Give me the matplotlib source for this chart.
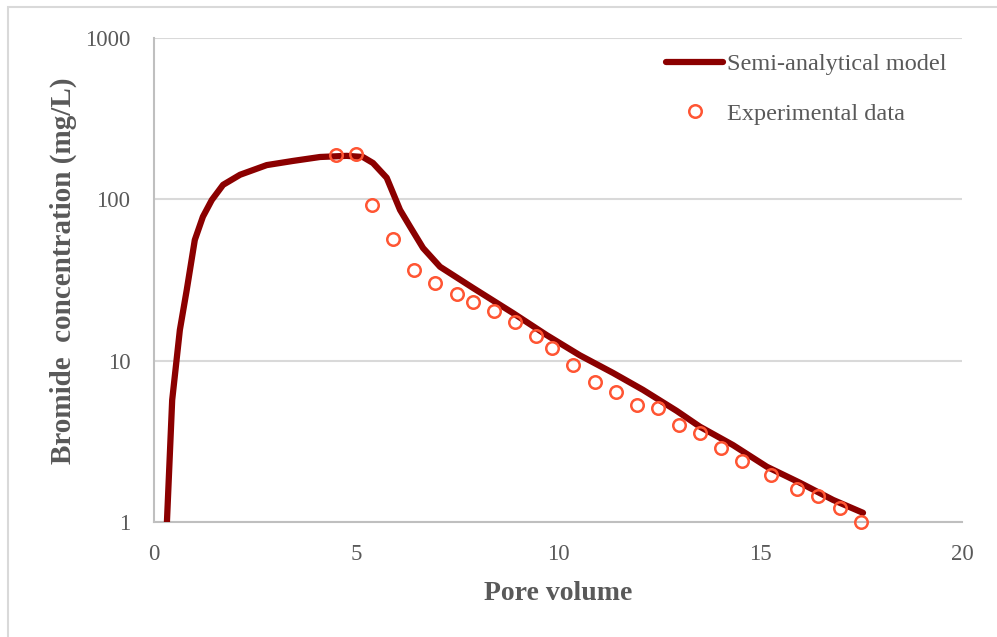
import matplotlib
matplotlib.use("Agg")
import matplotlib.pyplot as plt
import matplotlib.patches as patches

plt.rcParams['font.family'] = ['Liberation Serif', 'DejaVu Serif']

# ---- semi-analytical model curve ----
model_pv = [0.32, 0.45, 0.64, 0.81, 1.01, 1.21, 1.43, 1.71, 2.13, 2.79, 3.44,
            4.11, 4.77, 5.17, 5.42, 5.76, 6.09, 6.34, 6.66, 7.08, 7.90, 8.89,
            9.72, 10.54, 11.36, 12.10, 12.94, 13.51, 14.33, 15.17, 15.99,
            16.81, 17.55]
model_conc = [1.0, 5.7, 15.5, 27.4, 56, 78, 99, 123, 142, 163, 173,
              183, 186, 183, 168, 136, 86, 67.6, 49.9, 38.2, 28.2, 19.7,
              14.4, 10.8, 8.4, 6.6, 4.88, 3.90, 3.0, 2.20, 1.75,
              1.37, 1.14]

# ---- experimental breakthrough data ----
exp_pv = [4.50, 5.00, 5.40, 5.92, 6.44, 6.96, 7.50, 7.90, 8.42, 8.94, 9.46,
          9.85, 10.37, 10.92, 11.44, 11.96, 12.48, 13.00, 13.51, 14.03,
          14.55, 15.27, 15.92, 16.44, 16.98, 17.50]
exp_conc = [188, 190, 92, 57, 36.5, 30.3, 25.9, 23.1, 20.3, 17.4, 14.2,
            12.0, 9.4, 7.4, 6.4, 5.3, 5.1, 4.0, 3.57, 2.88,
            2.39, 1.95, 1.60, 1.45, 1.22, 1.0]

x_ticks = [0, 5, 10, 15, 20]
y_ticks = [1, 10, 100, 1000]

LINE_COLOR = '#8b0000'
MARKER_COLOR = '#ff5533'
TEXT_COLOR = '#595959'
GRID_COLOR = '#d9d9d9'

fig = plt.figure(figsize=(9.97, 6.37), dpi=100)
fig.patch.set_facecolor('white')

# thin outer frame (top/left edges visible)
frame = patches.Rectangle((8 / 997, -0.05), 1.2, 1 - 7 / 637 + 0.05,
                          transform=fig.transFigure, fill=False,
                          edgecolor='#d9d9d9', linewidth=1.5)
fig.patches.append(frame)

ax = fig.add_axes([154 / 997, 1 - 522 / 637, (962 - 154) / 997, (522 - 38) / 637])

ax.plot(model_pv, model_conc, color=LINE_COLOR, linewidth=4.5,
        solid_capstyle='round', solid_joinstyle='round',
        label='Semi-analytical model', zorder=3)
ax.plot(exp_pv, exp_conc, linestyle='none', marker='o', markersize=9,
        markerfacecolor='none', markeredgecolor=MARKER_COLOR,
        markeredgewidth=1.8, label='Experimental data', zorder=4, clip_on=False)

ax.set_yscale('log')
ax.set_xlim(0, 20)
ax.set_ylim(1, 1000)
ax.set_xticks(x_ticks)
ax.set_xticklabels([str(t) for t in x_ticks])
ax.set_yticks(y_ticks)
ax.set_yticklabels([str(t) for t in y_ticks])
ax.minorticks_off()

ax.grid(True, axis='y', color=GRID_COLOR, linewidth=1.5)
ax.set_axisbelow(True)
for side in ['top', 'right']:
    ax.spines[side].set_visible(False)
for side in ['left', 'bottom']:
    ax.spines[side].set_color('#bfbfbf')
    ax.spines[side].set_linewidth(1.5)

ax.tick_params(axis='both', length=0, labelsize=16.5, labelcolor=TEXT_COLOR)
ax.tick_params(axis='x', pad=16)
ax.tick_params(axis='y', pad=17)

ax.set_xlabel('Pore volume', fontsize=20, fontweight='bold', color=TEXT_COLOR,
              labelpad=11)
ax.set_ylabel('Bromide  concentration (mg/L)', fontsize=21, fontweight='bold',
              color=TEXT_COLOR)
ax.yaxis.set_label_coords(-0.095, 0.52)

leg = ax.legend(loc='upper left', bbox_to_anchor=(666 / 997, 1 - 53 / 637),
                bbox_transform=fig.transFigure, frameon=False, fontsize=17.5,
                handlelength=2.35, handletextpad=0.15, labelspacing=1.15,
                borderpad=0, borderaxespad=0)
for txt in leg.get_texts():
    txt.set_color(TEXT_COLOR)

fig.savefig('out.png', dpi=100, facecolor='white')
